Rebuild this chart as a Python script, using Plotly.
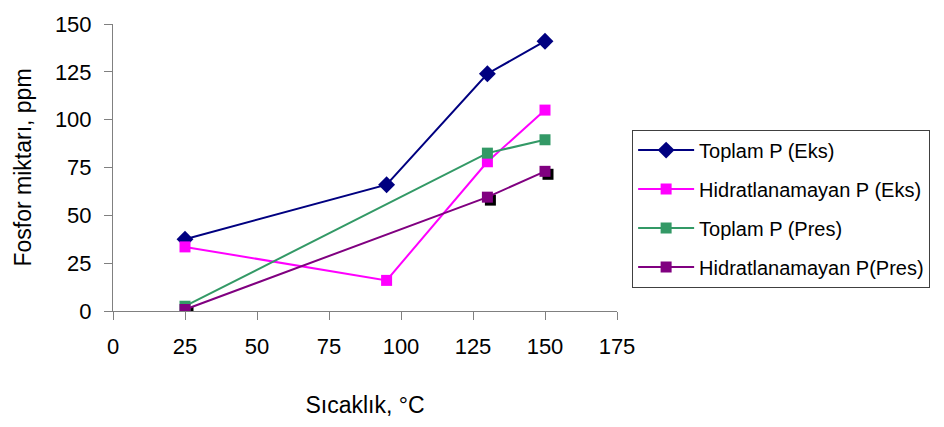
import plotly.graph_objects as go

# Sıcaklık (°C) değerleri
temp_eks = [25, 95, 130, 150]
temp_pres = [25, 130, 150]

# Fosfor miktarı, ppm
toplam_eks = [37.5, 66, 124, 141]
hidrat_eks = [33.5, 16, 78, 105]
toplam_pres = [2.5, 82.5, 89.5]
hidrat_pres = [0.8, 59.5, 73]

x_ticks = [0, 25, 50, 75, 100, 125, 150, 175]
y_ticks = [0, 25, 50, 75, 100, 125, 150]

FONT = "Liberation Sans, Arial, sans-serif"
AXIS_GRAY = "#808080"

X_RANGE = [0, 175]
Y_RANGE = [0, 150]
# shadow offset in data units (about 3 px right / 3 px down)
DX = 1.04
DY = 1.55

fig = go.Figure()

# drop shadow behind the last series (drawn on the base, hidden axes)
fig.add_trace(go.Scatter(
    x=temp_pres, y=hidrat_pres, mode="markers",
    marker=dict(symbol="square", size=11, color="black"),
    showlegend=False, hoverinfo="skip", xaxis="x", yaxis="y"))

series = [
    ("Toplam P (Eks)", temp_eks, toplam_eks, "#000080", "diamond", 13),
    ("Hidratlanamayan P (Eks)", temp_eks, hidrat_eks, "#FF00FF", "square", 11),
    ("Toplam P (Pres)", temp_pres, toplam_pres, "#339966", "square", 11),
    ("Hidratlanamayan P(Pres)", temp_pres, hidrat_pres, "#800080", "square", 11),
]
for i, (name, xs, ys, col, sym, sz) in enumerate(series):
    fig.add_trace(go.Scatter(
        x=xs, y=ys, name=name, mode="lines+markers",
        legendgroup=f"g{i}",
        line=dict(color=col, width=2),
        marker=dict(symbol=sym, size=sz, color=col),
        xaxis="x2", yaxis="y2"))

fig.update_layout(
    width=944, height=427,
    margin=dict(l=113, r=327, t=20, b=116),
    paper_bgcolor="white", plot_bgcolor="white",
    font=dict(family=FONT, size=22, color="black"),
    showlegend=True,
    legend=dict(
        x=1.03, y=0.632, xanchor="left", yanchor="top",
        bordercolor="#404040", borderwidth=1,
        font=dict(family=FONT, size=20, color="black"),
        itemwidth=56, tracegroupgap=10,
    ),
    xaxis=dict(range=[X_RANGE[0] - DX, X_RANGE[1] - DX], visible=False,
               fixedrange=True),
    yaxis=dict(range=[Y_RANGE[0] + DY, Y_RANGE[1] + DY], visible=False,
               fixedrange=True),
    xaxis2=dict(
        overlaying="x", side="bottom", range=X_RANGE,
        tickvals=x_ticks, ticktext=[str(v) for v in x_ticks],
        showgrid=False, zeroline=False,
        showline=True, linecolor=AXIS_GRAY, linewidth=1,
        ticks="outside", ticklen=8, tickcolor=AXIS_GRAY,
        ticklabelstandoff=8,
        title=dict(text="Sıcaklık, °C", standoff=38,
                   font=dict(family=FONT, size=23)),
        anchor="y2",
    ),
    yaxis2=dict(
        overlaying="y", side="left", range=Y_RANGE,
        tickvals=y_ticks, ticktext=[str(v) for v in y_ticks],
        showgrid=False, zeroline=False,
        showline=True, linecolor=AXIS_GRAY, linewidth=1,
        ticks="outside", ticklen=8, tickcolor=AXIS_GRAY,
        ticklabelstandoff=8,
        title=dict(text="Fosfor miktarı, ppm", standoff=16,
                   font=dict(family=FONT, size=23)),
        anchor="x2",
    ),
)

fig.write_html("out.html")
